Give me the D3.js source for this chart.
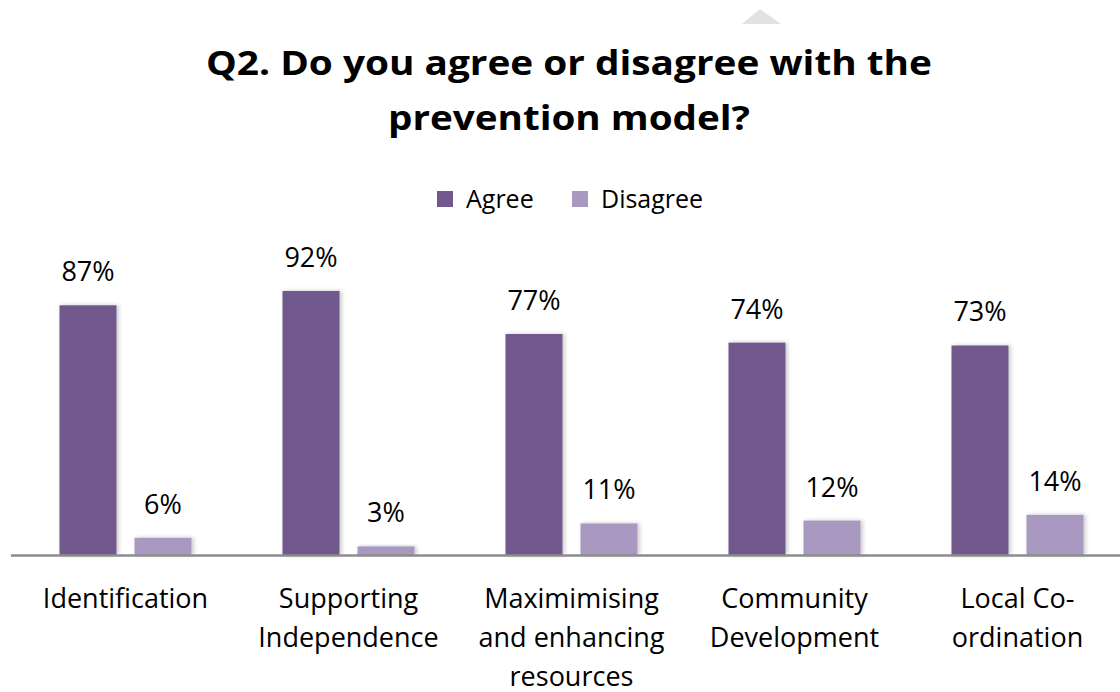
<!DOCTYPE html>
<html>
<head>
<meta charset="utf-8">
<script src="https://cdn.jsdelivr.net/npm/d3@7"></script>
<style>
  html, body { margin: 0; padding: 0; background: #ffffff; }
  svg { display: block; }
</style>
</head>
<body>
<svg id="chart" width="1120" height="692"></svg>
<script>
// ---- data ----
const titleLines = ["Q2. Do you agree or disagree with the", "prevention model?"];
const categories = ["Identification", "Supporting Independence", "Maximimising and enhancing resources", "Community Development", "Local Co-ordination"];
const categoryLines = [["Identification"], ["Supporting", "Independence"], ["Maximimising", "and enhancing", "resources"], ["Community", "Development"], ["Local Co-", "ordination"]];
const seriesNames = ["Agree", "Disagree"];
const agree = [0.87, 0.92, 0.77, 0.74, 0.73];
const disagree = [0.06, 0.03, 0.11, 0.12, 0.14];
const seriesColors = ["#71598D", "#A999C0"];

// ---- layout ----
const W = 1120, H = 692;
const baseY = 555, topY = 268;
const svg = d3.select("#chart");
const font = "'Open Sans', 'Noto Sans', sans-serif";

const defs = svg.append("defs");
const f = defs.append("filter").attr("id", "shadow").attr("x", "-20%").attr("y", "-20%").attr("width", "140%").attr("height", "140%");
f.append("feDropShadow").attr("dx", 2).attr("dy", 0).attr("stdDeviation", 2).attr("flood-color", "#000").attr("flood-opacity", 0.22);

// small decorative triangle at top
svg.append("path").attr("d", "M742,24 L760,9 L781,24 Z").attr("fill", "#e2e2e2");

const x0 = d3.scaleBand().domain(categories).range([14, 1129]).paddingInner(0.408).paddingOuter(0.204);
const x1 = d3.scaleBand().domain(seriesNames).range([0, x0.bandwidth()]).paddingInner(0.24);
const y = d3.scaleLinear().domain([0, 1]).range([baseY, topY]);

const rows = categories.map((c, i) => ({ cat: c, vals: [agree[i], disagree[i]] }));

// title
const title = svg.append("g");
const titleBaselines = [75, 130];
titleLines.forEach((t, i) => {
  const el = title.append("text")
    .attr("x", 569).attr("y", titleBaselines[i])
    .attr("text-anchor", "middle")
    .attr("font-family", font).attr("font-weight", 700).attr("font-size", 34)
    .attr("fill", "#000").text(t);
});
// fit first line width to reference
const targets = [726, 362];
title.selectAll("text").each(function(d, i) {
  const len = this.getComputedTextLength();
  if (Math.abs(len - targets[i]) > 4) d3.select(this).attr("textLength", targets[i]).attr("lengthAdjust", "spacingAndGlyphs");
});

// legend
const legend = svg.append("g");
const legendX = [437, 572];
seriesNames.forEach((s, i) => {
  legend.append("rect").attr("x", legendX[i]).attr("y", 191).attr("width", 16).attr("height", 16).attr("fill", seriesColors[i]);
  legend.append("text").attr("x", legendX[i] + 29).attr("y", 208)
    .attr("font-family", font).attr("font-size", 25).attr("fill", "#000").text(s);
});

// bars
const groups = svg.append("g").selectAll("g").data(rows).join("g")
  .attr("transform", d => `translate(${x0(d.cat)},0)`);

groups.selectAll("rect").data(d => d.vals.map((v, j) => ({ v, s: seriesNames[j], j })))
  .join("rect")
  .attr("x", d => x1(d.s)).attr("width", x1.bandwidth())
  .attr("y", d => y(d.v)).attr("height", d => baseY - y(d.v))
  .attr("fill", d => seriesColors[d.j])
  .attr("filter", "url(#shadow)");

groups.selectAll("text.val").data(d => d.vals.map((v, j) => ({ v, s: seriesNames[j], j })))
  .join("text").attr("class", "val")
  .attr("x", d => x1(d.s) + x1.bandwidth() / 2)
  .attr("y", d => y(d.v) - 24)
  .attr("text-anchor", "middle")
  .attr("font-family", font).attr("font-size", 27).attr("fill", "#000")
  .text(d => d3.format(".0%")(d.v));

// x axis
const axis = svg.append("g").attr("transform", `translate(0,${baseY})`)
  .call(d3.axisBottom(x0).tickSize(0).tickSizeOuter(0).tickPadding(0));
axis.select(".domain").attr("d", `M11,0.5H1120`).attr("stroke", "#8c8c8c").attr("stroke-width", 2.5);
axis.selectAll(".tick text").each(function(d, i) {
  const t = d3.select(this);
  t.text(null).attr("dy", null).attr("y", 0)
    .attr("font-family", font).attr("font-size", 27).attr("fill", "#000");
  categoryLines[i].forEach((line, k) => {
    t.append("tspan").attr("x", 0).attr("y", 53 + k * 39).text(line);
  });
});
</script>
</body>
</html>
